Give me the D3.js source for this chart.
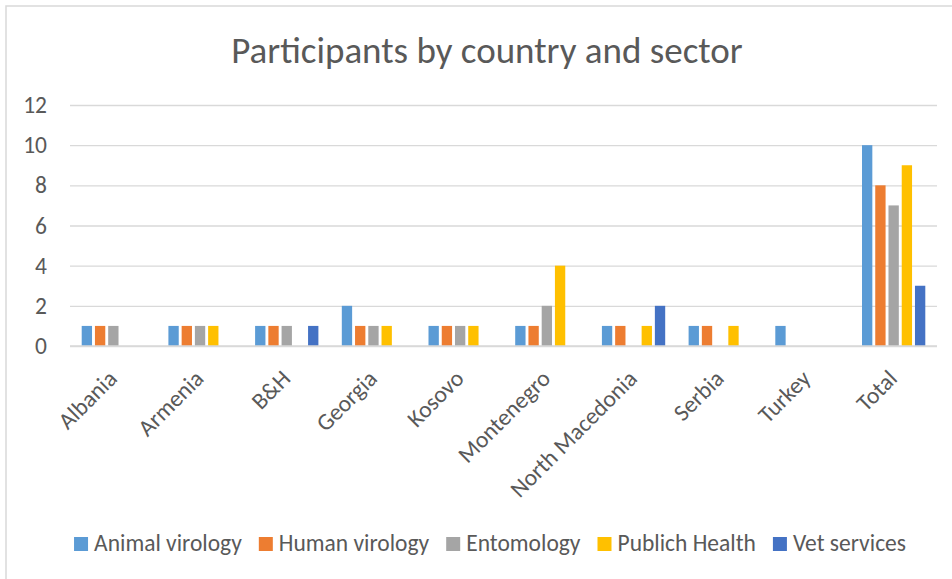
<!DOCTYPE html>
<html>
<head>
<meta charset="utf-8">
<script src="https://cdn.jsdelivr.net/npm/d3@7"></script>
<style>
  html, body { margin: 0; padding: 0; background: #fff; }
  svg { display: block; }
  text { font-family: Carlito, Lato, "Noto Sans", sans-serif; fill: #595959; }
</style>
</head>
<body>
<svg id="chart" width="952" height="579"></svg>
<script>
// Participants per country, split by sector
const categories = ["Albania", "Armenia", "B&H", "Georgia", "Kosovo", "Montenegro",
                    "North Macedonia", "Serbia", "Turkey", "Total"];
const seriesNames = ["Animal virology", "Human virology", "Entomology", "Publich Health", "Vet services"];
const seriesColors = ["#5B9BD5", "#ED7D31", "#A5A5A5", "#FFC000", "#4472C4"];
const animalVirology = [1, 1, 1, 2, 1, 1, 1, 1, 1, 10];
const humanVirology  = [1, 1, 1, 1, 1, 1, 1, 1, 0, 8];
const entomology     = [1, 1, 1, 1, 1, 2, 0, 0, 0, 7];
const publichHealth  = [0, 1, 0, 1, 1, 4, 1, 1, 0, 9];
const vetServices    = [0, 0, 1, 0, 0, 0, 2, 0, 0, 3];
const yTicks = [0, 2, 4, 6, 8, 10, 12];

const seriesValues = [animalVirology, humanVirology, entomology, publichHealth, vetServices];

const svg = d3.select("#chart");
const W = 952, H = 579;
const plot = { left: 70, right: 937, top: 105, bottom: 346 };
const labelSize = "23.5px";

// chart frame
svg.append("path")
  .attr("d", `M6,${H + 5}V6H${W + 5}`)
  .attr("fill", "none")
  .attr("stroke", "#d9d9d9")
  .attr("stroke-width", 1.5);

// title
svg.append("text")
  .attr("x", 487).attr("y", 63)
  .attr("text-anchor", "middle")
  .style("font-size", "37px")
  .text("Participants by country and sector");

const y = d3.scaleLinear().domain([0, 12]).range([plot.bottom, plot.top]);
const x0 = d3.scaleBand().domain(categories).range([plot.left, plot.right]).padding(0);
const bw = x0.bandwidth();
const groupPad = bw * 0.135;
const x1 = d3.scaleBand().domain(seriesNames).range([groupPad, bw - groupPad]).paddingInner(0.22);

// gridlines and value ticks
const yAxis = d3.axisLeft(y).tickValues(yTicks).tickSize(-(plot.right - plot.left)).tickPadding(23);
const gy = svg.append("g").attr("transform", `translate(${plot.left},0)`).call(yAxis);
gy.select(".domain").remove();
gy.selectAll(".tick line").attr("stroke", "#d9d9d9").attr("stroke-width", 1.3);
gy.selectAll(".tick text")
  .style("font-size", labelSize)
  .style("font-family", "Carlito, Lato, 'Noto Sans', sans-serif")
  .attr("fill", "#595959");

// bars
const groups = svg.append("g").selectAll("g")
  .data(categories)
  .join("g")
  .attr("transform", d => `translate(${x0(d)},0)`);

groups.selectAll("rect")
  .data((c, i) => seriesNames.map((s, k) => ({ s, k, v: seriesValues[k][i] })))
  .join("rect")
  .attr("x", d => x1(d.s))
  .attr("width", x1.bandwidth())
  .attr("y", d => y(d.v))
  .attr("height", d => y(0) - y(d.v))
  .attr("fill", d => seriesColors[d.k]);

// baseline
svg.append("line")
  .attr("x1", plot.left).attr("x2", plot.right)
  .attr("y1", y(0)).attr("y2", y(0))
  .attr("stroke", "#d9d9d9").attr("stroke-width", 1.3);

// category labels, rotated
svg.append("g").selectAll("text")
  .data(categories)
  .join("text")
  .attr("transform", d => `translate(${x0(d) + bw / 2 + 5},380) rotate(-45)`)
  .attr("text-anchor", "end")
  .style("font-size", labelSize)
  .text(d => d);

// legend
const legend = svg.append("g");
const items = legend.selectAll("g").data(seriesNames).join("g");
items.append("rect").attr("width", 14).attr("height", 14).attr("y", -14)
  .attr("fill", (d, i) => seriesColors[i]);
items.append("text").attr("x", 20).attr("y", 0)
  .style("font-size", labelSize)
  .text(d => d);
let cx = 0;
items.each(function () {
  const w = 20 + this.querySelector("text").getComputedTextLength();
  d3.select(this).attr("data-x", cx);
  cx += w + 17;
});
const total = cx - 17;
const lx = 490 - total / 2;
items.attr("transform", function () { return `translate(${lx + (+this.getAttribute("data-x"))},551)`; });
</script>
</body>
</html>
